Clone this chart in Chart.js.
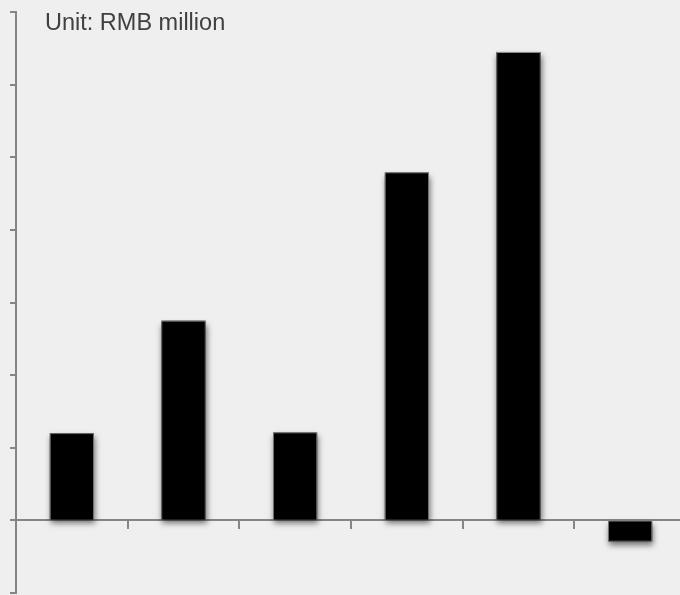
<!DOCTYPE html>
<html>
<head>
<meta charset="utf-8">
<script src="https://cdn.jsdelivr.net/npm/chart.js@4/dist/chart.umd.min.js"></script>
<style>
  html, body { margin: 0; padding: 0; background: #efefef; overflow: hidden; }
  #wrap { position: relative; width: 686px; height: 595px; }
  #unit { position: absolute; left: 45px; top: 11px; font: 23.5px/1 "Liberation Sans", Arial, sans-serif; color: #404040; }
</style>
</head>
<body>
<div id="wrap">
  <canvas id="chart" width="686" height="595"></canvas>
  <div id="unit">Unit: RMB million</div>
</div>
<script>
const categories = ['1', '2', '3', '4', '5', '6'];
const values = [1.2, 2.75, 1.21, 4.79, 6.45, -0.29];
const yMin = -1;
const yMax = 7;

const axisGrey = '#858585';

// the bar element clips to its own rect when it has a border,
// so paint the drop shadow separately underneath each bar
const barShadow = {
  id: 'barShadow',
  beforeDatasetsDraw(chart) {
    const ctx = chart.ctx;
    const meta = chart.getDatasetMeta(0);
    ctx.save();
    ctx.shadowColor = 'rgba(0,0,0,0.55)';
    ctx.shadowBlur = 6;
    ctx.shadowOffsetX = 1;
    ctx.shadowOffsetY = 4;
    ctx.fillStyle = '#000';
    meta.data.forEach(bar => {
      const { x, y, base, width } = bar.getProps(['x', 'y', 'base', 'width'], true);
      ctx.fillRect(x - width / 2, Math.min(y, base), width, Math.abs(base - y));
    });
    ctx.restore();
  }
};

new Chart(document.getElementById('chart'), {
  type: 'bar',
  data: {
    labels: categories,
    datasets: [{
      data: values,
      backgroundColor: '#000000',
      borderColor: '#8a8a8a',
      borderWidth: 1,
      barPercentage: 0.395,
      categoryPercentage: 1
    }]
  },
  options: {
    responsive: false,
    animation: false,
    layout: { padding: { top: 12, bottom: 2, left: 0, right: 0 } },
    plugins: {
      legend: { display: false },
      tooltip: { enabled: false }
    },
    scales: {
      x: {
        position: { y: 0 },
        grid: {
          display: true,
          drawOnChartArea: false,
          drawTicks: true,
          tickLength: 8,
          color: axisGrey,
          lineWidth: 2
        },
        border: { display: true, color: axisGrey, width: 2 },
        ticks: { display: false }
      },
      y: {
        min: yMin,
        max: yMax,
        afterFit(scale) { scale.width = 16; },
        ticks: { display: false, stepSize: 1 },
        grid: {
          drawOnChartArea: false,
          drawTicks: true,
          tickLength: 6,
          color: axisGrey,
          lineWidth: 2
        },
        border: { display: true, color: axisGrey, width: 2 }
      }
    }
  },
  plugins: [barShadow]
});
</script>
</body>
</html>
